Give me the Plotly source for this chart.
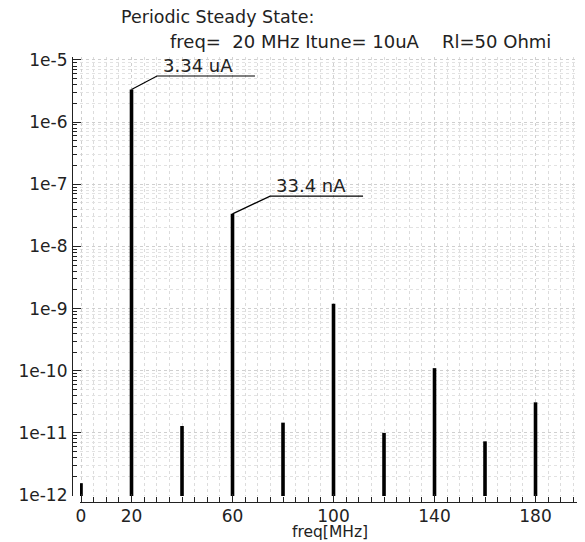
import numpy as np
import plotly.graph_objects as go

# Harmonic frequencies (MHz) and current magnitudes (A)
freq_mhz = [0, 20, 40, 60, 80, 100, 120, 140, 160, 180]
current_a = [1.55e-12, 3.34e-6, 1.29e-11, 3.34e-8, 1.46e-11, 1.2e-9, 1.0e-11, 1.1e-10, 7.3e-12, 3.1e-11]

y_tick_vals = [1e-12, 1e-11, 1e-10, 1e-9, 1e-8, 1e-7, 1e-6, 1e-5]
y_tick_text = ["1e-12", "1e-11", "1e-10", "1e-9", "1e-8", "1e-7", "1e-6", "1e-5"]
x_tick_vals = [0, 20, 60, 100, 140, 180]

marker_labels = ["3.34 uA", "33.4 nA"]
marker_freq = [20, 60]
marker_val = [3.34e-6, 3.34e-8]
marker_elbow_x = [30.1, 74.9]
marker_level = [5.52e-6, 6.45e-8]
marker_end_x = [68.9, 111.7]

y_floor = 10 ** -12.016

FONT = "DejaVu Sans"
TXT = "#222"

fig = go.Figure()

# stems
xs, ys = [], []
for f, v in zip(freq_mhz, current_a):
    xs += [f, f, None]
    ys += [y_floor, v, None]
fig.add_trace(go.Scatter(x=xs, y=ys, mode="lines",
                         line=dict(color="black", width=3.6),
                         hoverinfo="skip", showlegend=False))

# leader lines for markers
for f, v, ex, lvl, endx in zip(marker_freq, marker_val, marker_elbow_x, marker_level, marker_end_x):
    fig.add_trace(go.Scatter(x=[f, ex, endx], y=[v, lvl, lvl], mode="lines",
                             line=dict(color="black", width=1.2),
                             hoverinfo="skip", showlegend=False))

# page has an 8px body margin, so the figure is drawn 8px lower/right
OFF = 8
W, H = 585 - OFF, 542 - OFF
ml, mr, mt, mb = 72 - OFF, 0, 57 - OFF, 40
pw, ph = W - ml - mr, H - mt - mb

def px_to_paper(sx, sy):
    fx, fy = sx - OFF, sy - OFF
    return (fx - ml) / pw, (H - mb - fy) / ph

anns = []
for lab, ex, lvl in zip(marker_labels, marker_elbow_x, marker_level):
    anns.append(dict(x=ex + 1.5, y=np.log10(lvl), xref="x", yref="y",
                     text=lab, showarrow=False, xanchor="left", yanchor="bottom",
                     yshift=-2,
                     font=dict(family=FONT, size=18, color=TXT)))

x1, y1 = px_to_paper(119, 17)
anns.append(dict(x=x1, y=y1, xref="paper", yref="paper", text="Periodic Steady State:",
                 showarrow=False, xanchor="left", yanchor="middle",
                 font=dict(family=FONT, size=17.5, color=TXT)))
x2, y2 = px_to_paper(168, 42)
anns.append(dict(x=x2, y=y2, xref="paper", yref="paper",
                 text="freq=&nbsp;&nbsp;20 MHz Itune= 10uA",
                 showarrow=False, xanchor="left", yanchor="middle",
                 font=dict(family=FONT, size=18, color=TXT)))
x2b, _ = px_to_paper(440, 42)
anns.append(dict(x=x2b, y=y2, xref="paper", yref="paper",
                 text="Rl=50 Ohmi",
                 showarrow=False, xanchor="left", yanchor="middle",
                 font=dict(family=FONT, size=18, color=TXT)))
x3, y3 = px_to_paper(330, 532)
anns.append(dict(x=x3, y=y3, xref="paper", yref="paper", text="freq[MHz]",
                 showarrow=False, xanchor="center", yanchor="middle",
                 font=dict(family=FONT, size=15.5, color=TXT)))

minor_y = [k * 10.0 ** e for e in range(-12, -4) for k in range(2, 10)]

fig.update_layout(
    width=W, height=H,
    margin=dict(l=ml, r=mr, t=mt, b=mb, pad=0, autoexpand=False),
    paper_bgcolor="white", plot_bgcolor="white",
    showlegend=False,
    annotations=anns,
    xaxis=dict(
        domain=[(80 - 72) / pw, 1], range=[-0.4, 199.6],
        anchor="free", position=0, automargin=False,
        showline=True, linecolor=TXT, linewidth=1.2,
        tickmode="array", tickvals=x_tick_vals,
        ticks="inside", ticklen=8, tickcolor=TXT, tickwidth=1.2,
        tickfont=dict(family=FONT, size=17, color=TXT),
        ticklabelstandoff=-2,
        showgrid=True, gridcolor="#cfcfcf", griddash="dot", gridwidth=1,
        minor=dict(dtick=5, tick0=0, ticks="inside", ticklen=5, tickcolor=TXT,
                   showgrid=True, gridcolor="#dcdcdc", griddash="dot"),
        zeroline=False,
    ),
    yaxis=dict(
        type="log",
        domain=[(H - mb - (496 - OFF)) / ph, 1], range=[-12.016, -4.952],
        anchor="free", position=0, automargin=False,
        showline=True, linecolor=TXT, linewidth=1.2,
        tickmode="array", tickvals=y_tick_vals, ticktext=y_tick_text,
        ticks="inside", ticklen=8, tickcolor=TXT, tickwidth=1.2,
        tickfont=dict(family=FONT, size=17, color=TXT),
        ticklabelstandoff=1,
        showgrid=True, gridcolor="#cfcfcf", griddash="dot", gridwidth=1,
        minor=dict(tickmode="array", tickvals=minor_y, ticks="inside", ticklen=4,
                   tickcolor=TXT, showgrid=True, gridcolor="#e2e2e2", griddash="dot"),
        zeroline=False,
    ),
)

fig.write_html("out.html")
